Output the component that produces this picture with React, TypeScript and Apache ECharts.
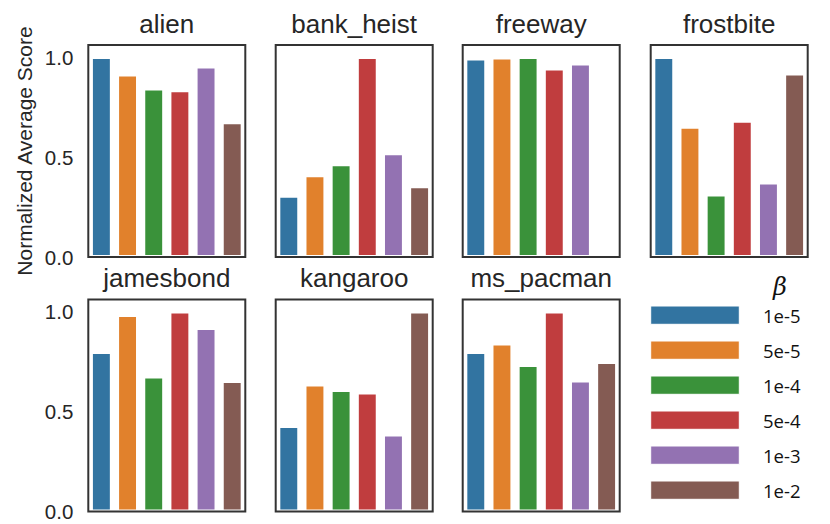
import React, { useEffect, useRef } from 'react';
import * as echarts from 'echarts';

const betas = ['1e-5', '5e-5', '1e-4', '5e-4', '1e-3', '1e-2'];
const games = ['alien', 'bank_heist', 'freeway', 'frostbite', 'jamesbond', 'kangaroo', 'ms_pacman'];
const alien = [1.0, 0.913, 0.842, 0.834, 0.953, 0.674];
const bankHeist = [0.306, 0.409, 0.464, 1.0, 0.519, 0.354];
const freeway = [0.993, 0.997, 1.0, 0.943, 0.968, null];
const frostbite = [1.0, 0.651, 0.313, 0.681, 0.373, 0.918];
const jamesbond = [0.797, 0.982, 0.675, 1.0, 0.917, 0.652];
const kangaroo = [0.428, 0.635, 0.607, 0.595, 0.385, 1.0];
const msPacman = [0.797, 0.84, 0.733, 1.0, 0.655, 0.747];
const yTicks = [0, 0.5, 1.0];
const yMax = 1.06;

const gameValues = [alien, bankHeist, freeway, frostbite, jamesbond, kangaroo, msPacman];
const colors = ['#3274a1', '#e1812c', '#3a923a', '#c03d3e', '#9372b2', '#845b53'];

const colLeft = [88.3, 275.7, 462.7, 650.7];
const rowTop = [45, 299.5];
const boxW = 157;
const boxH = 212;
const titleY = [23.6, 277.8];
const textColor = '#262626';
const sansFont = '"Liberation Sans", Arial, sans-serif';

export default function App() {
  const ref = useRef<HTMLDivElement>(null);
  useEffect(() => {
    document.body.style.margin = '0';
    const chart = echarts.init(ref.current!, undefined, { renderer: 'svg' });
    const grids: any[] = [];
    const xAxes: any[] = [];
    const yAxes: any[] = [];
    const series: any[] = [];
    const graphics: any[] = [];
    games.forEach((g, i) => {
      const row = Math.floor(i / 4);
      const col = i % 4;
      const left = colLeft[col];
      const top = rowTop[row];
      grids.push({ left, top, width: boxW, height: boxH, containLabel: false });
      xAxes.push({
        type: 'category', gridIndex: i, data: betas,
        axisLine: { show: false }, axisTick: { show: false }, axisLabel: { show: false },
      });
      yAxes.push({
        type: 'value', gridIndex: i, min: 0, max: yMax, interval: 0.5,
        splitLine: { show: false }, axisLine: { show: false }, axisTick: { show: false },
        axisLabel: {
          show: col === 0, showMaxLabel: false, margin: 15,
          fontFamily: sansFont, fontSize: 20.5, color: textColor,
          formatter: (v: number) => (yTicks.some((t) => Math.abs(t - v) < 1e-9) ? v.toFixed(1) : ''),
        },
      });
      series.push({
        type: 'bar', xAxisIndex: i, yAxisIndex: i, barCategoryGap: '20%',
        data: gameValues[i].map((v, j) => ({
          value: v === null ? '-' : v,
          itemStyle: { color: colors[j], borderColor: '#ffffff', borderWidth: 2 },
        })),
      });
      graphics.push({
        type: 'rect', z: 100,
        shape: { x: left, y: top, width: boxW, height: boxH },
        style: { fill: 'none', stroke: '#333333', lineWidth: 2 },
      });
      graphics.push({
        type: 'text', z: 100, x: left + boxW / 2, y: titleY[row],
        style: { text: g, fontFamily: sansFont, fontSize: 26, fill: textColor, align: 'center', verticalAlign: 'middle' },
      });
    });
    graphics.push({
      type: 'text', z: 100, x: 24, y: rowTop[0] + boxH / 2, rotation: Math.PI / 2,
      style: { text: 'Normalized Average Score', fontFamily: sansFont, fontSize: 21, fill: textColor, align: 'center', verticalAlign: 'middle' },
    });
    graphics.push({
      type: 'text', z: 100, x: 780, y: 286.5,
      style: { text: 'β', fontFamily: '"DejaVu Serif", serif', fontStyle: 'italic', fontSize: 24, fill: '#111111', align: 'center', verticalAlign: 'middle' },
    });
    betas.forEach((b, j) => {
      const y = 306 + j * 35;
      graphics.push({
        type: 'rect', z: 100,
        shape: { x: 650.7, y, width: 88.6, height: 18.3 },
        style: { fill: colors[j], stroke: '#ffffff', lineWidth: 1 },
      });
      graphics.push({
        type: 'text', z: 100, x: 763, y: y + 9.2,
        style: { text: b, fontFamily: '"Open Sans", sans-serif', fontSize: 18.5, fill: '#111111', align: 'left', verticalAlign: 'middle' },
      });
    });
    chart.setOption({
      animation: false,
      backgroundColor: '#ffffff',
      grid: grids,
      xAxis: xAxes,
      yAxis: yAxes,
      series,
      graphic: graphics,
    });
    return () => chart.dispose();
  }, []);
  return <div ref={ref} style={{ width: 830, height: 524 }} />;
}
